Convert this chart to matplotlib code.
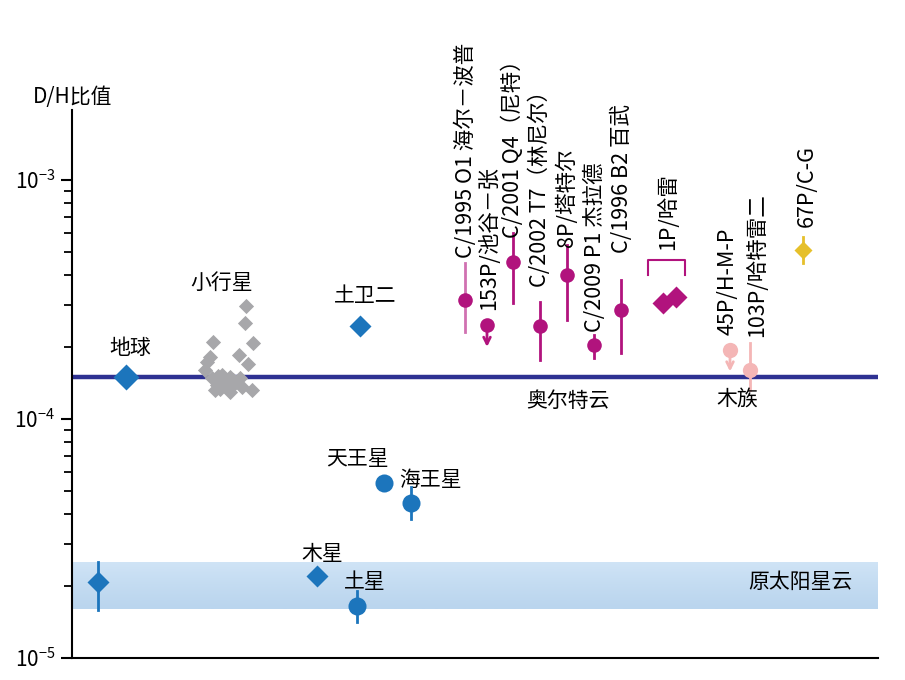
import matplotlib
matplotlib.use('Agg')
import matplotlib.pyplot as plt
import numpy as np
from matplotlib.colors import LinearSegmentedColormap
from matplotlib.ticker import LogLocator, NullFormatter

plt.rcParams['font.family'] = ['Noto Sans CJK SC', 'DejaVu Sans']
plt.rcParams['font.weight'] = 'medium'
plt.rcParams['axes.unicode_minus'] = False

# 行星、卫星 (蓝色)
body_names = ['地球', '土卫二', '木星', '原太阳星云', '天王星', '海王星', '土星']
body_x = [54, 288, 245, 26, 312, 339, 285]
body_dh = [1.50e-4, 2.45e-4, 2.20e-5, 2.08e-5, 5.40e-5, 4.45e-5, 1.65e-5]
body_lo = [None, None, None, 1.59e-5, None, 3.80e-5, 1.42e-5]
body_hi = [None, None, None, 2.52e-5, None, 5.20e-5, 1.90e-5]

# 原太阳星云范围 / 地球海水值
nebula_range = [1.60e-5, 2.52e-5]
earth_ref = 1.50e-4

# 小行星 (灰色)
ast_x = [174, 173, 141, 181, 167, 138, 176, 135, 133, 180,
         150, 158, 168, 145, 155, 163, 143, 158, 151, 170, 140, 146, 161, 148]
ast_dh = [2.97e-4, 2.52e-4, 2.10e-4, 2.08e-4, 1.85e-4, 1.82e-4, 1.70e-4, 1.73e-4, 1.60e-4, 1.32e-4,
          1.53e-4, 1.50e-4, 1.49e-4, 1.39e-4, 1.36e-4, 1.42e-4, 1.32e-4, 1.30e-4, 1.43e-4, 1.36e-4,
          1.49e-4, 1.51e-4, 1.45e-4, 1.34e-4]

# 奥尔特云彗星 (品红)
oort_names = ['C/1995 O1 海尔－波普', '153P/池谷－张', 'C/2001 Q4（尼特）', 'C/2002 T7（林尼尔）',
              '8P/塔特尔', 'C/2009 P1 杰拉德', 'C/1996 B2 百武']
oort_x = [393, 415, 441, 468, 495, 522, 549]
oort_dh = [3.15e-4, 2.47e-4, 4.54e-4, 2.45e-4, 4.01e-4, 2.04e-4, 2.86e-4]
oort_lo = [2.31e-4, None, 3.05e-4, 1.77e-4, 2.60e-4, 1.80e-4, 1.89e-4]
oort_hi = [4.50e-4, None, 6.00e-4, 3.09e-4, 5.35e-4, 2.25e-4, 3.82e-4]
oort_upper_limit = [False, True, False, False, False, False, False]

# 1P/哈雷 两个测量
halley_x = [591, 604]
halley_dh = [3.05e-4, 3.24e-4]

# 木族彗星 (浅粉)
jfc_names = ['45P/H-M-P', '103P/哈特雷二']
jfc_x = [658, 678]
jfc_dh = [1.95e-4, 1.60e-4]
jfc_lo = [None, 1.32e-4]
jfc_hi = [None, 2.08e-4]
jfc_upper_limit = [True, False]

# 67P/C-G (黄色)
cg_x = 731
cg_dh = 5.10e-4
cg_err = [4.50e-4, 5.78e-4]

BLUE = '#1c75bc'
MAGENTA = '#b1137d'
PINK = '#f4b6b6'
GOLD = '#e6c02b'
GRAY = '#a7a7aa'
NAVY = '#2e3192'

fig = plt.figure(figsize=(9.05, 6.8), dpi=100)
ax = fig.add_axes([72 / 905, 22 / 680, 806 / 905, 548 / 680])
ax.set_yscale('log')
ax.set_xlim(0, 806)
ax.set_ylim(1e-5, 1.96e-3)

# 原太阳星云 band with a soft vertical gradient
band_cmap = LinearSegmentedColormap.from_list('band', ['#bad5ee', '#d0e4f6'])
ax.imshow(np.linspace(0, 1, 64).reshape(-1, 1), extent=[0, 806, nebula_range[0], nebula_range[1]],
          origin='lower', aspect='auto', cmap=band_cmap, zorder=0, interpolation='bilinear')
ax.set_xlim(0, 806)
ax.set_ylim(1e-5, 1.96e-3)
ax.axhline(earth_ref, color=NAVY, lw=3.2, zorder=1)

# blue bodies
for i, (x, v) in enumerate(zip(body_x, body_dh)):
    if body_lo[i] is not None:
        ax.plot([x, x], [body_lo[i], body_hi[i]], color=BLUE, lw=2, zorder=2)
    if i < 4:
        ms = 13.5 if i == 0 else 11.5
        ax.plot(x, v, 'D', color=BLUE, ms=ms, mec='none', zorder=3)
    else:
        ax.plot(x, v, 'o', color=BLUE, ms=13, mec='none', zorder=3)

ax.scatter(ast_x, ast_dh, marker='D', s=60, color=GRAY, lw=0, zorder=3)

def draw_comet(x, v, lo, hi, upper, color, ms=10.5, bar_alpha=1.0):
    if lo is not None:
        ax.plot([x, x], [lo, hi], color=color, lw=2, alpha=bar_alpha, zorder=2)
    if upper:
        ax.annotate('', xy=(x, v * 0.81), xytext=(x, v),
                    arrowprops=dict(arrowstyle='->', color=color, lw=2, mutation_scale=12,
                                    shrinkA=0, shrinkB=0), zorder=2)
    ax.plot(x, v, 'o', color=color, ms=ms, mec='none', zorder=3)

for i in range(len(oort_x)):
    draw_comet(oort_x[i], oort_dh[i], oort_lo[i], oort_hi[i], oort_upper_limit[i], MAGENTA,
               bar_alpha=0.6 if i == 0 else 1.0)
for i in range(len(jfc_x)):
    draw_comet(jfc_x[i], jfc_dh[i], jfc_lo[i], jfc_hi[i], jfc_upper_limit[i], PINK, ms=11)

ax.plot(halley_x, halley_dh, 'D', color=MAGENTA, ms=11, mec='none', zorder=3)
# bracket over Halley
ax.plot([576, 576, 613, 613], [4.01e-4, 4.62e-4, 4.62e-4, 4.01e-4], color=MAGENTA, lw=1.5)

ax.plot([cg_x, cg_x], cg_err, color=GOLD, lw=2, zorder=2)
ax.plot(cg_x, cg_dh, 'D', color=GOLD, ms=9, mec='none', zorder=3)

fs = 15
rfs = 15.5
# horizontal labels
ax.text(58, 1.98e-4, '地球', fontsize=fs, ha='center', va='center')
ax.text(150, 3.70e-4, '小行星', fontsize=fs, ha='center', va='center')
ax.text(293, 3.27e-4, '土卫二', fontsize=fs, ha='center', va='center')
ax.text(285, 6.8e-5, '天王星', fontsize=fs, ha='center', va='center')
ax.text(359, 5.56e-5, '海王星', fontsize=fs, ha='center', va='center')
ax.text(250, 2.72e-5, '木星', fontsize=fs, ha='center', va='center')
ax.text(293, 2.08e-5, '土星', fontsize=fs, ha='center', va='center')
ax.text(496, 1.19e-4, '奥尔特云', fontsize=fs, ha='center', va='center')
ax.text(665, 1.22e-4, '木族', fontsize=fs, ha='center', va='center')
ax.text(728, 2.08e-5, '原太阳星云', fontsize=fs, ha='center', va='center')

# rotated comet labels (x, bottom)
oort_label_pos = [(394, 4.72e-4), (417, 2.86e-4), (441, 5.71e-4), (468, 3.57e-4),
                  (495, 5.25e-4), (523, 2.31e-4), (550, 4.96e-4)]
for name, (lx, ly) in zip(oort_names, oort_label_pos):
    ax.text(lx, ly, name, fontsize=rfs, rotation=90, ha='center', va='bottom')
ax.text(596, 5.1e-4, '1P/哈雷', fontsize=rfs, rotation=90, ha='center', va='bottom')
jfc_label_pos = [(656, 2.25e-4), (685, 2.20e-4)]
for name, (lx, ly) in zip(jfc_names, jfc_label_pos):
    ax.text(lx, ly, name, fontsize=rfs, rotation=90, ha='center', va='bottom')
ax.text(735, 6.36e-4, '67P/C-G', fontsize=rfs, rotation=90, ha='center', va='bottom')

fig.text(73 / 905, 1 - 97 / 680, 'D/H比值', fontsize=fs, ha='center', va='center')

for s in ['top', 'right']:
    ax.spines[s].set_visible(False)
ax.spines['left'].set_linewidth(1.5)
ax.spines['bottom'].set_linewidth(1.5)
ax.set_xticks([])
ax.yaxis.set_major_locator(LogLocator(base=10, numticks=10))
ax.yaxis.set_minor_locator(LogLocator(base=10, subs=range(2, 10), numticks=10))
ax.yaxis.set_minor_formatter(NullFormatter())
ax.tick_params(axis='y', which='major', length=8, width=1.5, labelsize=15, pad=4)
ax.tick_params(axis='y', which='minor', length=6, width=1.3)

fig.savefig('out.png', dpi=100)
